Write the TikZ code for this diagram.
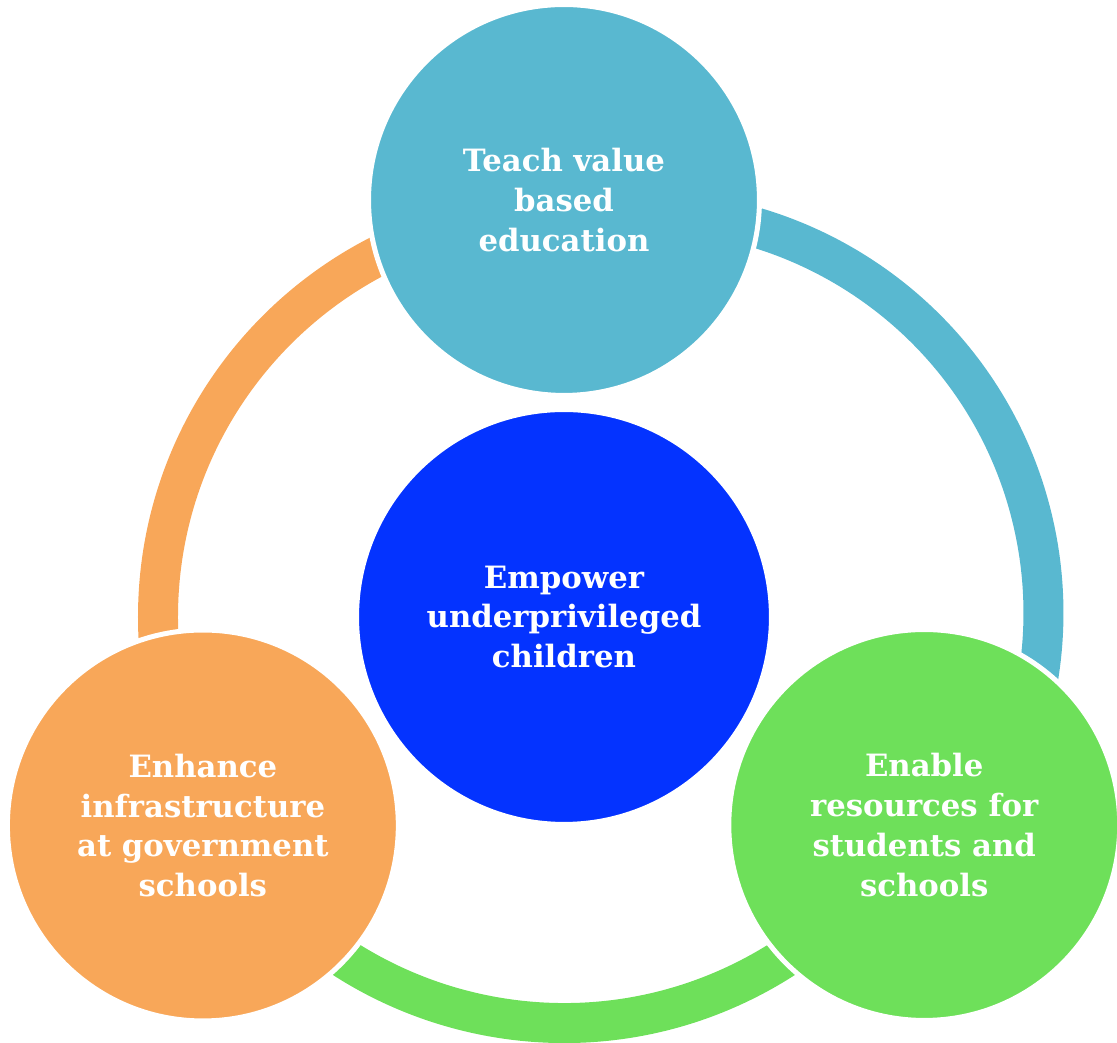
\documentclass[tikz,border=0pt]{standalone}
\usepackage{fontspec}
\setmainfont{DejaVu Serif}
\usetikzlibrary{positioning}
\definecolor{teachblue}{RGB}{89, 184, 208}
\definecolor{infraorange}{RGB}{248, 167, 89}
\definecolor{enablegreen}{RGB}{110, 224, 90}
\definecolor{hubblue}{RGB}{4, 51, 255}

\begin{document}
\begin{tikzpicture}[
    x=0.02cm, y=0.02cm,
    bubble/.style={circle, draw=white, line width=0.1cm, minimum size=7.82cm,
                   inner sep=0pt, align=center, text=white,
                   font=\bfseries\fontsize{17.5}{22.7}\selectfont},
    band/.style={line width=0.8cm},
  ]
    \useasboundingbox (-564,-426) rectangle (553,617);

    % Rings
    \coordinate (c) at (0,0);
    \coordinate (rc) at (77.5,4);
    \draw[band, infraorange] (c) ++(90:406) arc[start angle=90, end angle=210, radius=406];
    \draw[band, enablegreen] (c) ++(210:406) arc[start angle=210, end angle=330, radius=406];
    \draw[band, teachblue] (rc) ++(100.6:402) arc[start angle=100.6, end angle=-36.9, radius=402];

    % Circles
    \node[bubble, fill=hubblue, minimum size=8.3cm] (hub) at (c) {Empower\\underprivileged\\children};
    \node[bubble, fill=teachblue] (teach) at (90:417) {Teach value\\based\\education};
    \node[bubble, fill=infraorange] (infra) at (210:417) {Enhance\\infrastructure\\at government\\schools};
    \node[bubble, fill=enablegreen] (enable) at (-30:416) {Enable\\resources for\\students and\\schools};
  \end{tikzpicture}
\end{document}
